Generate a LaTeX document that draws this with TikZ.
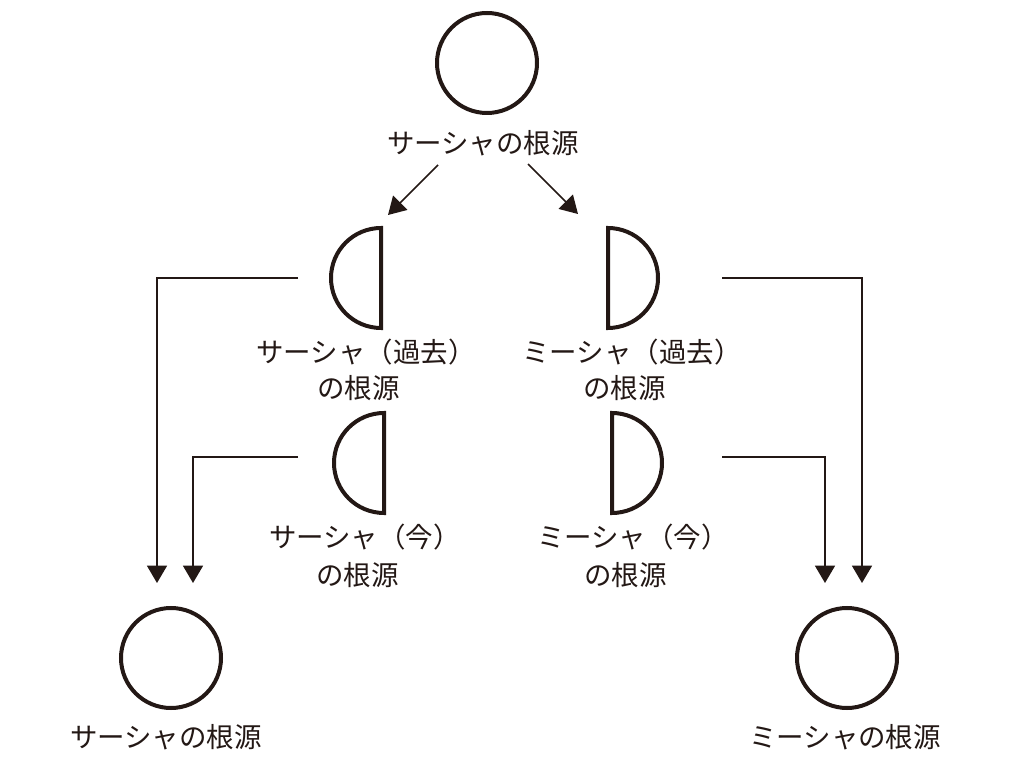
\documentclass[tikz,border=0pt]{standalone}
\usepackage{fontspec}
\newfontfamily\jpfont{Noto Sans CJK JP}
\usetikzlibrary{arrows.meta}
\definecolor{ink}{HTML}{231815}
\begin{document}
\begin{tikzpicture}[x=0.75pt,y=0.75pt,
  shapeline/.style={draw=ink,line width=3pt},
  rootcircle/.style={circle,shapeline,minimum size=75pt,inner sep=0pt},
  lbl/.style={font=\jpfont\fontsize{20.6pt}{25pt}\selectfont,text=ink,align=center,inner sep=0pt},
  conn/.style={draw=ink,line width=1.1pt,-{Triangle[length=13pt,width=15pt]}}]
\useasboundingbox (0,0) rectangle (1024,768);
% top
\node[rootcircle] (top) at (487,705) {};
\node[lbl] (toplbl) at (483,625) {サーシャの根源};
% half circles
\coordinate (L1) at (381,490);
\coordinate (R1) at (608,490);
\coordinate (L2) at (384,305);
\coordinate (R2) at (612,305);
\draw[shapeline] (381,540) arc[start angle=90,end angle=270,radius=50] -- cycle;
\draw[shapeline] (608,540) arc[start angle=90,end angle=-90,radius=50] -- cycle;
\draw[shapeline] (384,355) arc[start angle=90,end angle=270,radius=50] -- cycle;
\draw[shapeline] (612,355) arc[start angle=90,end angle=-90,radius=50] -- cycle;
\node[lbl] (L1lbl) at (366,398) {サーシャ（過去）\\[2pt]\hbox{の根源\kern11pt}};
\node[lbl] (R1lbl) at (632,398) {ミーシャ（過去）\\[2pt]\hbox{の根源\kern11pt}};
\node[lbl] (L2lbl) at (365,212) {サーシャ（今）\\[4pt]\hbox{の根源\kern11pt}};
\node[lbl] (R2lbl) at (633,212) {ミーシャ（今）\\[4pt]\hbox{の根源\kern11pt}};
% bottom
\node[rootcircle] (bl) at (171,110) {};
\node[lbl] (bllbl) at (166,31) {サーシャの根源};
\node[rootcircle] (br) at (847,110) {};
\node[lbl] (brlbl) at (845,31) {ミーシャの根源};
% top arrows
\coordinate (ta1) at (438,603);
\coordinate (tb1) at (388,553);
\coordinate (ta2) at (528,604);
\coordinate (tb2) at (578,554);
\draw[conn] (ta1) -- (tb1);
\draw[conn] (ta2) -- (tb2);
% side connectors
\coordinate (sL1) at (298,490);
\coordinate (eL1) at (157,185);
\coordinate (sL2) at (298,311);
\coordinate (eL2) at (193,185);
\coordinate (sR1) at (722,490);
\coordinate (eR1) at (862,185);
\coordinate (sR2) at (722,311);
\coordinate (eR2) at (825,185);
\draw[conn] (sL1) -| (eL1);
\draw[conn] (sL2) -| (eL2);
\draw[conn] (sR1) -| (eR1);
\draw[conn] (sR2) -| (eR2);
\end{tikzpicture}
\end{document}
